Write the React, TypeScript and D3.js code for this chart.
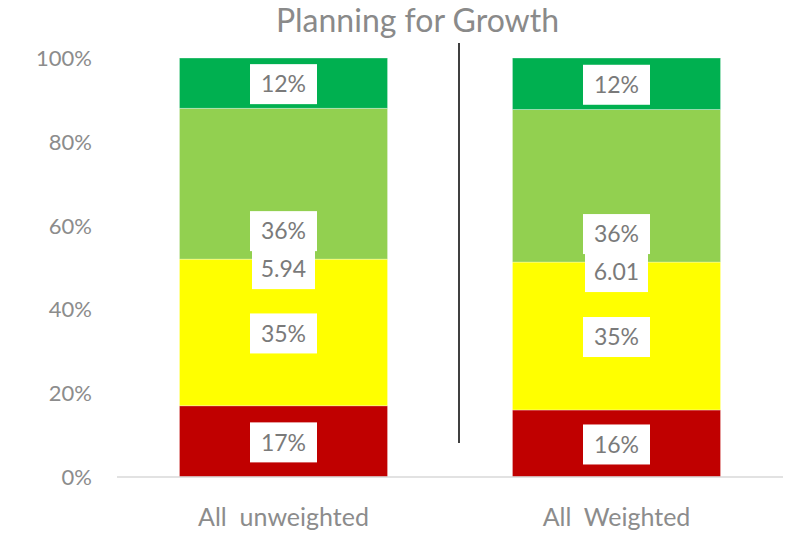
import React from 'react';
import * as d3 from 'd3';

const categories = ['All  unweighted', 'All  Weighted'];
const seriesNames = ['Red', 'Yellow', 'Light green', 'Green'];
const seriesColors = ['#C00000', '#FFFF00', '#92D050', '#00B050'];
const seriesValues = [
    [0.17, 0.16],
    [0.35, 0.353],
    [0.36, 0.364],
    [0.12, 0.123],
];
const scores = ['5.94', '6.01'];
const yTicks = [0, 0.2, 0.4, 0.6, 0.8, 1];

const width = 795;
const height = 536;
const margin = { top: 58, right: 12, bottom: 59, left: 117 };
const font = 'Lato, "Noto Sans", sans-serif';

const x = d3.scaleBand()
    .domain(categories)
    .range([margin.left, width - margin.right])
    .paddingInner(0.375)
    .paddingOuter(0.1875);

const y = d3.scaleLinear()
    .domain([0, 1])
    .range([height - margin.bottom, margin.top]);

const rows = categories.map((c, i) => {
    const r: any = { cat: c };
    seriesNames.forEach((s, j) => { r[s] = seriesValues[j][i]; });
    return r;
});
const stacked = d3.stack().keys(seriesNames)(rows);

const LabelBox = ({ cx, cy, text, w }: { cx: number, cy: number, text: string, w: number }) => (
    <g>
        <rect x={cx - w / 2} y={cy - 20} width={w} height={40} fill="#ffffff" />
        <text x={cx} y={cy} dy="0.36em" textAnchor="middle" fontSize={23} fill="#7a7a7a" fontFamily={font}>{text}</text>
    </g>
);

const App = () => {
    const bw = x.bandwidth();
    return (
        <svg width={width} height={height} style={{ position: 'absolute', left: 0, top: 0 }}>
            <rect width={width} height={height} fill="#ffffff" />
            <text x={width / 2 + 20} y={32} textAnchor="middle" fontSize={32} fill="#8a8a8a" fontFamily={font}>Planning for Growth</text>
            {yTicks.map(t => (
                <text key={t} x={92} y={y(t)} dy="0.36em" textAnchor="end" fontSize={22} fill="#8c8c8c" fontFamily={font}>{d3.format('.0%')(t)}</text>
            ))}
            {stacked.map((layer, j) => (
                <g key={layer.key}>
                    {layer.map((d, i) => (
                        <rect key={i} x={x(categories[i])!} width={bw}
                            y={y(d[1])} height={y(d[0]) - y(d[1])}
                            fill={seriesColors[j]} stroke="#ffffff" strokeOpacity={0.4} strokeWidth={0.8} />
                    ))}
                </g>
            ))}
            <line x1={margin.left} x2={width - margin.right} y1={y(0)} y2={y(0)} stroke="#d9d9d9" strokeWidth={1.5} />
            <line x1={459} x2={459} y1={43} y2={443} stroke="#404040" strokeWidth={2} />
            {stacked.map((layer, j) => layer.map((d, i) => {
                const cx = x(categories[i])! + bw / 2;
                const cy = j === 2 ? y(d[0]) - 28 : (y(d[0]) + y(d[1])) / 2 + 1;
                return <LabelBox key={`${j}-${i}`} cx={cx} cy={cy} w={67} text={d3.format('.0%')(d[1] - d[0])} />;
            }))}
            {scores.map((s, i) => {
                const cx = x(categories[i])! + bw / 2;
                const cy = y(stacked[1][i][1]) + 10;
                return <LabelBox key={s} cx={cx} cy={cy} w={63} text={s} />;
            })}
            {categories.map(c => (
                <text key={c} x={x(c)! + bw / 2} y={517} dy="0.36em" textAnchor="middle" fontSize={25} fill="#8c8c8c" fontFamily={font} style={{ whiteSpace: 'pre' }}>{c}</text>
            ))}
        </svg>
    );
};

export default App;
